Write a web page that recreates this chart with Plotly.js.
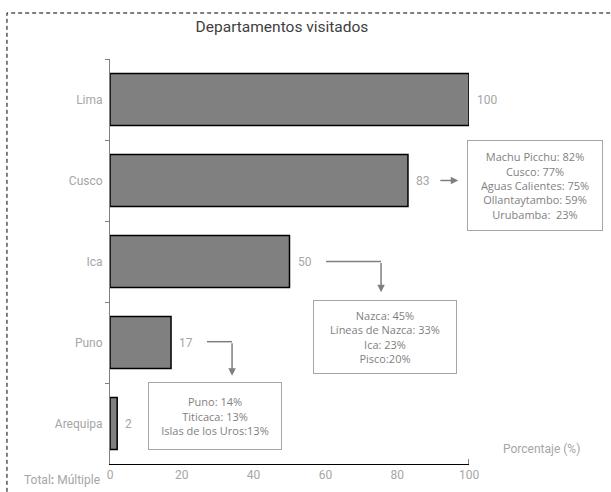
<!DOCTYPE html>
<html>
<head>
<meta charset="utf-8">
<script src="https://cdn.plot.ly/plotly-3.0.1.min.js"></script>
<style>html,body{margin:0;padding:0;background:#fff;}#chart{width:611px;height:492px;}</style>
</head>
<body>
<div id="chart"></div>
<script>
var categories = ["Lima", "Cusco", "Ica", "Puno", "Arequipa"];
var values = [100, 83, 50, 17, 2];
var xTicks = [0, 20, 40, 60, 80, 100];
var cuscoDetail = ["Machu Picchu: 82%", "Cusco: 77%", "Aguas Calientes: 75%", "Ollantaytambo: 59%", "Urubamba:&nbsp; 23%"];
var icaDetail = ["Nazca: 45%", "Líneas de Nazca: 33%", "Ica: 23%", "Pisco:20%"];
var punoDetail = ["Puno: 14%", "Titicaca: 13%", "Islas de los Uros:13%"];

var labelFont = {family: "Roboto, sans-serif", size: 12, color: "#a6a6a6"};
var boxFont = {family: "Open Sans, Noto Sans, sans-serif", size: 11, color: "#7f7f7f"};
var grey = "#7f7f7f";

var trace = {
  type: "bar",
  orientation: "h",
  y: categories,
  x: values,
  width: 0.64,
  marker: {color: "#808080", line: {color: "#000000", width: 1.5}},
  hoverinfo: "none"
};

var annotations = [];
categories.forEach(function (c, i) {
  annotations.push({
    x: values[i], y: c, xref: "x", yref: "y",
    text: String(values[i]), showarrow: false,
    xanchor: "left", xshift: 6, font: labelFont
  });
});

function box(lines, x, y, w, h, xref, yref) {
  return {
    x: x, y: y, xref: xref || "x", yref: yref || "y",
    xanchor: "center", yanchor: "middle",
    text: lines.join("<br>"), showarrow: false,
    align: "center", valign: "middle",
    width: w, height: h,
    bordercolor: "#a6a6a6", borderwidth: 1, borderpad: 0,
    bgcolor: "#ffffff", font: boxFont
  };
}
annotations.push(box(cuscoDetail, (533 - 110) / 357, (464 - 185.5) / 405, 134, 89, "paper", "paper"));
annotations.push(box(icaDetail, 76.6, 2.93, 142, 72));
annotations.push(box(punoDetail, 29.2, 3.91, 132, 66));

function arrow(x0, y0, x1, y1) {
  return {
    x: x1, y: y1, ax: x0, ay: y0, xref: "x", yref: "y", axref: "x", ayref: "y",
    text: "", showarrow: true, arrowhead: 2, arrowsize: 1, arrowwidth: 1.5,
    arrowcolor: grey, standoff: 0, startstandoff: 0
  };
}
annotations.push(arrow(91.6, 1, 97.0, 1));
annotations.push(arrow(75.5, 2, 75.5, 2.38));
annotations.push(arrow(34.0, 2.99, 34.0, 3.41));

annotations.push({
  x: (499 - 110) / 357, y: (464 - 449) / 405, xref: "paper", yref: "paper",
  text: "Porcentaje (%)", showarrow: false, font: labelFont,
  xanchor: "left", yanchor: "middle"
});
annotations.push({
  x: (102 - 110) / 357, y: (464 - 480) / 405, xref: "paper", yref: "paper",
  text: "Total<b>:</b> Múltiple", showarrow: false, font: labelFont,
  xanchor: "right", yanchor: "middle"
});

var shapes = [
  {type: "line", xref: "x", yref: "y", x0: 60.2, x1: 75.5, y0: 2, y1: 2, line: {color: grey, width: 1.5}},
  {type: "line", xref: "x", yref: "y", x0: 27.0, x1: 34.0, y0: 2.99, y1: 2.99, line: {color: grey, width: 1.5}},
  {type: "line", xref: "x", yref: "paper", x0: 100, x1: 100, y0: 0, y1: 0.012, line: {color: "#000", width: 1}},
  {type: "rect", xref: "paper", yref: "paper", x0: -0.287, x1: 1.45, y0: -0.2, y1: 1.1136,
   line: {color: "#000", width: 1, dash: "4px,3px"}, layer: "below"}
];

var layout = {
  width: 611, height: 492,
  margin: {l: 110, r: 142, t: 59, b: 28},
  paper_bgcolor: "#ffffff", plot_bgcolor: "#ffffff",
  showlegend: false,
  title: {
    text: "Departamentos visitados",
    x: 282 / 611, xref: "container", xanchor: "center",
    y: 1 - 27 / 492, yref: "container", yanchor: "middle",
    font: {family: "Roboto, sans-serif", size: 15.5, color: "#404040"}
  },
  xaxis: {
    range: [0, 100], tickvals: xTicks, ticktext: xTicks.map(String),
    showgrid: false, zeroline: false, showline: true, linecolor: "#000", linewidth: 1,
    ticks: "", tickfont: labelFont, fixedrange: true
  },
  yaxis: {
    type: "category", range: [4.5, -0.5],
    showgrid: false, zeroline: false, showline: true, linecolor: "#808080", linewidth: 1,
    ticks: "outside", tickson: "boundaries", ticklen: 4, tickcolor: "#808080",
    tickfont: labelFont, ticklabelstandoff: 4, fixedrange: true
  },
  annotations: annotations,
  shapes: shapes
};

Plotly.newPlot("chart", [trace], layout, {displayModeBar: false, staticPlot: true});
</script>
</body>
</html>
